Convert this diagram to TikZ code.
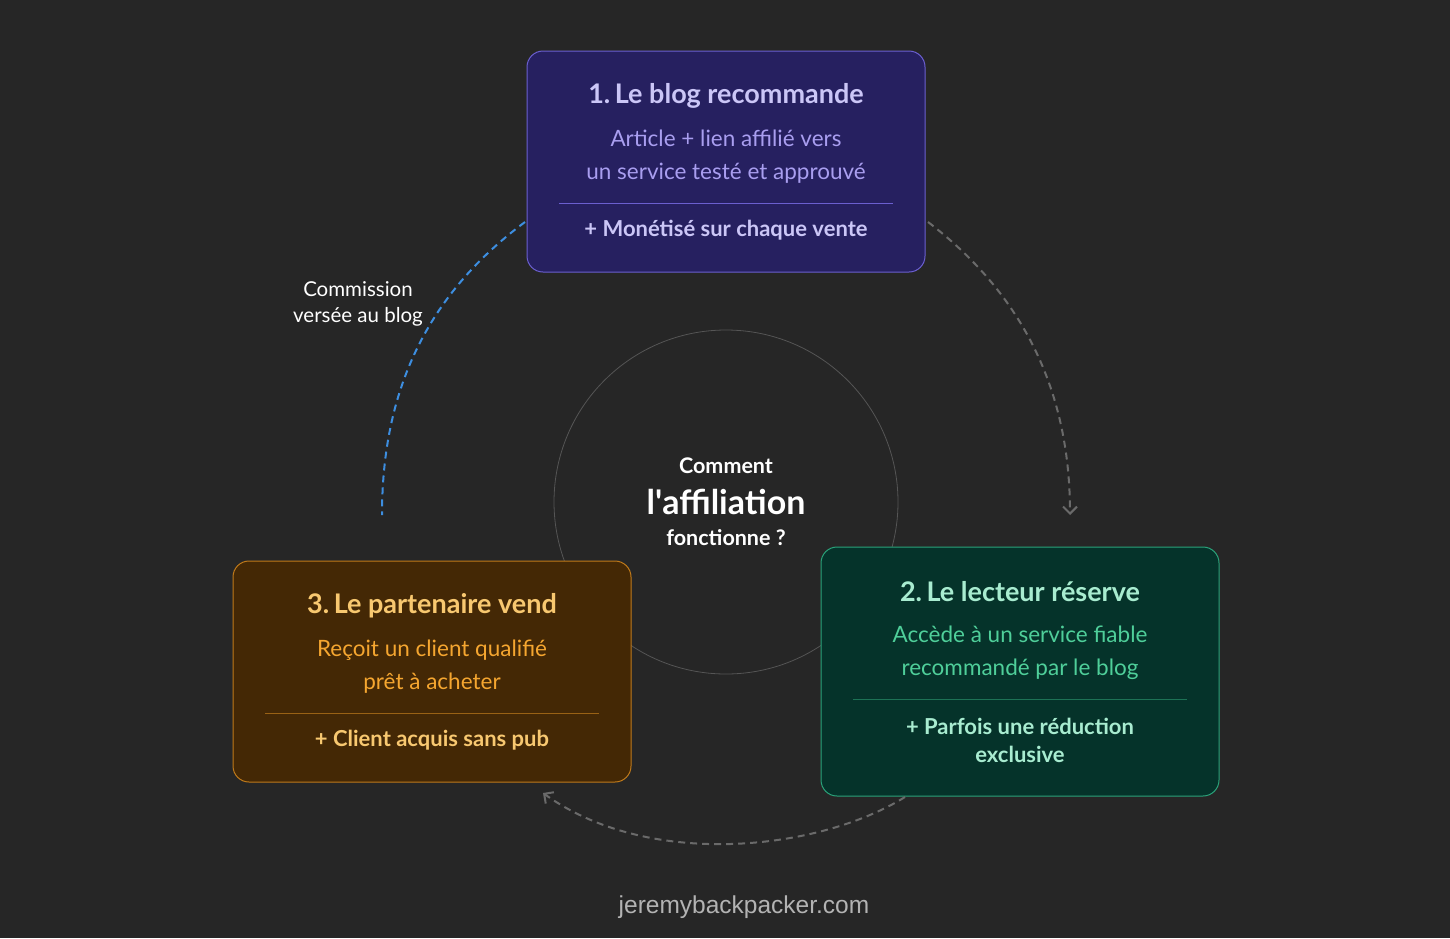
\documentclass[tikz,border=0pt]{standalone}
\usepackage{fontspec}
\setmainfont{Lato}
\usetikzlibrary{arrows.meta}
\definecolor{bg}{HTML}{262626}
\definecolor{pf}{HTML}{262060}\definecolor{pd}{HTML}{6B5FD0}\definecolor{pt}{HTML}{CBC6F7}\definecolor{ps}{HTML}{A99EF0}
\definecolor{gf}{HTML}{05332A}\definecolor{gd}{HTML}{2AA37A}\definecolor{gt}{HTML}{A8ECD0}\definecolor{gs}{HTML}{4FCF9A}
\definecolor{of}{HTML}{442805}\definecolor{od}{HTML}{C07A1A}\definecolor{ot}{HTML}{F8C870}\definecolor{os}{HTML}{F5A630}
\definecolor{dashgray}{HTML}{6A6A6A}\definecolor{arcblue}{HTML}{3D8EE0}
\begin{document}
\begin{tikzpicture}[x=1pt,y=-1pt,
 card/.style={rounded corners=16pt,line width=1pt},
 ttl/.style={font=\fontsize{27}{30}\selectfont\bfseries},
 sub/.style={font=\fontsize{22.5}{33}\selectfont,align=center},
 bot/.style={font=\fontsize{22}{28}\selectfont\bfseries,align=center},
 flow/.style={draw=dashgray,line width=2pt,dash pattern=on 7pt off 5pt,-{Straight Barb[length=7pt,width=14pt]}},
 lbl/.style={white,font=\fontsize{20.5}{26}\selectfont,align=center}]
\fill[bg] (0,0) rectangle (1450,938);
\useasboundingbox (0,0) rectangle (1450,938);
\node[draw=dashgray!80!black,line width=0.8pt,circle,minimum size=344pt] (ring) at (726,502) {};
% card 1
\draw[card,fill=pf,draw=pd] (527,51) rectangle (925,272);
\node[ttl,text=pt] (t1) at (726,96) {1.\,Le blog recommande};
\node[sub,text=ps] (s1) at (726,157) {Article + lien affilié vers\\un service testé et approuvé};
\draw[pd,line width=1pt] (559,203) -- (893,203);
\node[bot,text=pt] (b1) at (726,230) {+ Monétisé sur chaque vente};
% card 2
\draw[card,fill=gf,draw=gd] (821,547) rectangle (1219,796);
\node[ttl,text=gt] (t2) at (1020,592) {2.\,Le lecteur réserve};
\node[sub,text=gs] (s2) at (1020,653) {Accède à un service fiable\\recommandé par le blog};
\draw[gd!70!black,line width=1pt] (853,699) -- (1187,699);
\node[bot,text=gt] (b2) at (1020,740) {+ Parfois une réduction\\exclusive};
% card 3
\draw[card,fill=of,draw=od] (233,561) rectangle (631,782);
\node[ttl,text=ot] (t3) at (432,606) {3.\,Le partenaire vend};
\node[sub,text=os] (s3) at (432,667) {Reçoit un client qualifié\\prêt à acheter};
\draw[od!80!black,line width=1pt] (265,713) -- (599,713);
\node[bot,text=ot] (b3) at (432,740) {+ Client acquis sans pub};
% centre
\node[white,font=\fontsize{21.5}{24}\selectfont\bfseries] (c1) at (726,466) {Comment};
\node[white,font=\fontsize{34}{36}\selectfont\bfseries] (c2) at (726,502) {l\textquotesingle affiliation};
\node[white,font=\fontsize{21.5}{24}\selectfont\bfseries] (c3) at (726,538) {fonctionne ?};
% arcs
\coordinate (a1s) at (928,222); \coordinate (a1e) at (1070,515);
\coordinate (a2s) at (905,797); \coordinate (a2e) at (543,793);
\coordinate (a3s) at (525,222); \coordinate (a3e) at (382,515);
\draw[flow] (a1s) .. controls (1030,300) and (1070,400) .. (a1e);
\draw[flow] (a2s) .. controls (820,850) and (650,870) .. (a2e);
\draw[arcblue,line width=2pt,dash pattern=on 7pt off 5pt] (a3s) .. controls (420,300) and (382,400) .. (a3e);
\node[lbl] (l) at (358,304) {Commission\\versée au blog};
\node[text=white!65!bg,font=\fontsize{24.5}{28}\selectfont] (f) at (744,907) {\fontspec{Liberation Sans}jeremybackpacker.com};
\end{tikzpicture}
\end{document}
